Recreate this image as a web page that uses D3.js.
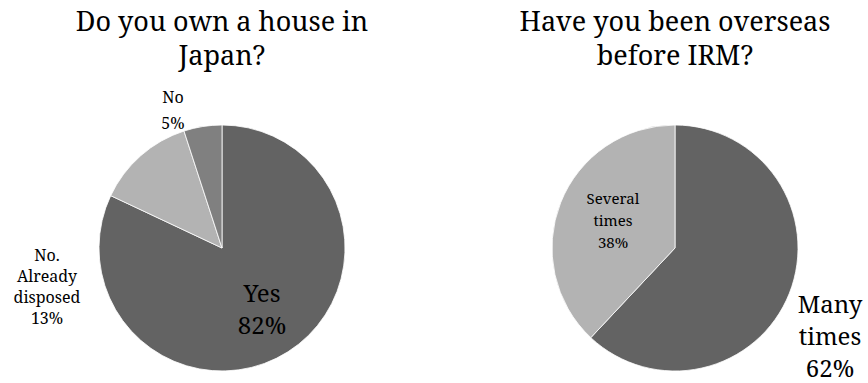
<!DOCTYPE html>
<html>
<head>
<meta charset="utf-8">
<script src="https://cdn.jsdelivr.net/npm/d3@7"></script>
</head>
<body style="margin:0;background:#ffffff">
<svg id="chart" width="868" height="383" style="display:block"></svg>
<script>
// ---- Data ----
const houseCategories = ["Yes", "No. Already disposed", "No"];
const houseValues = [82, 13, 5];
const houseColors = ["#636363", "#b3b3b3", "#808080"];

const overseasCategories = ["Many times", "Several times"];
const overseasValues = [62, 38];
const overseasColors = ["#636363", "#b3b3b3"];

const titles = [["Do you own a house in", "Japan?"], ["Have you been overseas", "before IRM?"]];

// label lines per slice
const houseLabels = [["Yes", "82%"], ["No.", "Already", "disposed", "13%"], ["No", "5%"]];
const overseasLabels = [["Many", "times", "62%"], ["Several", "times", "38%"]];

const FONT = "Noto Serif";
const svg = d3.select("#chart");
const R = 123;

function drawPie(cx, cy, cats, vals, colors, title, labels, labelSpecs) {
  const g = svg.append("g").attr("transform", `translate(${cx},${cy})`);
  const pie = d3.pie().sort(null).value(d => d)(vals);
  const arc = d3.arc().innerRadius(0).outerRadius(R);
  g.selectAll("path.slice").data(pie).enter().append("path")
    .attr("class", "slice")
    .attr("d", arc)
    .attr("fill", (d, i) => colors[i])
    .attr("stroke", "#ffffff").attr("stroke-width", 0.8);

  // title
  const t = svg.append("text").attr("text-anchor", "middle")
    .attr("font-family", FONT).attr("font-size", 27).attr("fill", "#000");
  title.forEach((line, i) => {
    t.append("tspan").attr("x", cx).attr("y", 31 + i * 34).text(line);
  });

  // labels
  labels.forEach((lines, i) => {
    const s = labelSpecs[i];
    const lt = svg.append("text").attr("text-anchor", "middle")
      .attr("font-family", FONT).attr("font-size", s.size).attr("fill", "#000");
    lines.forEach((line, j) => {
      lt.append("tspan").attr("x", cx + s.dx).attr("y", cy + s.dy + j * s.lh).text(line);
    });
  });
}

drawPie(222, 248, houseCategories, houseValues, houseColors, titles[0], houseLabels, [
  { dx: 40, dy: 54, size: 24, lh: 32 },
  { dx: -175, dy: 13, size: 16, lh: 21 },
  { dx: -49, dy: -145, size: 16, lh: 26 }
]);

drawPie(675, 248, overseasCategories, overseasValues, overseasColors, titles[1], overseasLabels, [
  { dx: 155, dy: 65, size: 24, lh: 32 },
  { dx: -62, dy: -44, size: 15, lh: 22 }
]);
</script>
</body>
</html>
